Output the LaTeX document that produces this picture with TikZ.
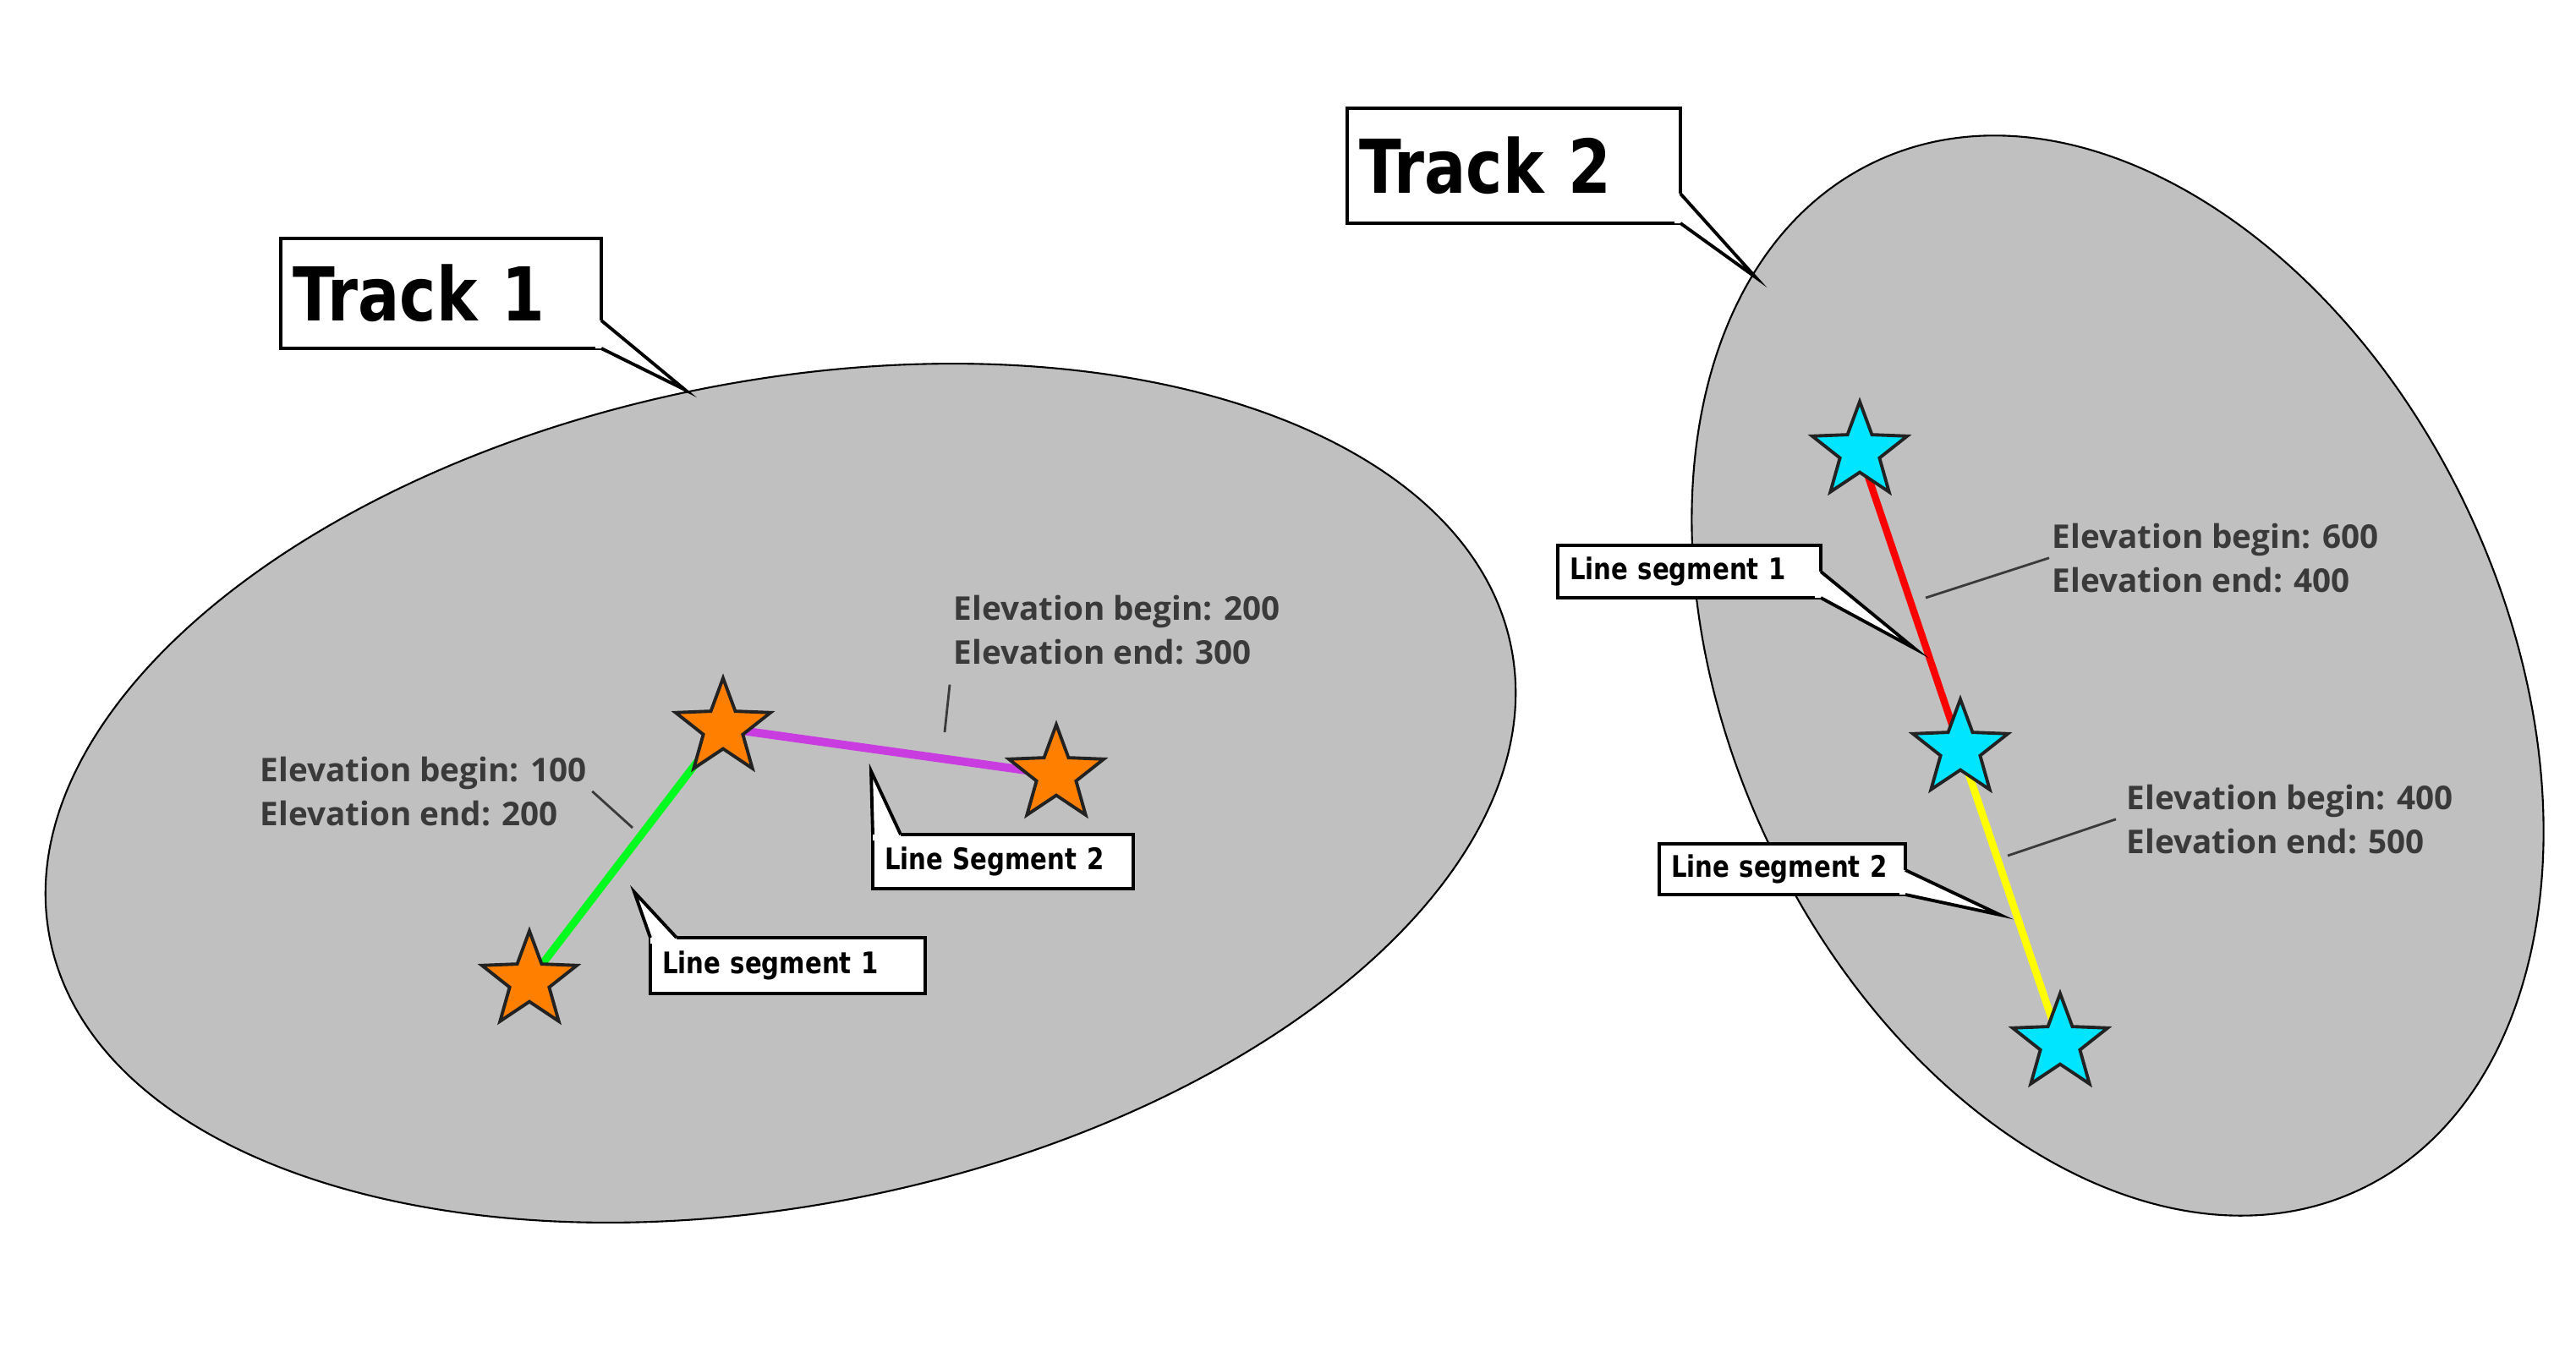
\documentclass[tikz,border=0pt]{standalone}
\usepackage{fontspec}
\usetikzlibrary{shapes.geometric}
\newfontfamily\labelfont{DejaVu Sans}[FakeStretch=0.83]
\newfontfamily\elevfont{Open Sans}
\definecolor{trackgray}{RGB}{193,192,193}
\definecolor{starorange}{RGB}{255,128,0}
\definecolor{starcyan}{RGB}{0,229,255}
\definecolor{starline}{RGB}{34,34,34}
\definecolor{elevgray}{RGB}{58,58,58}
\definecolor{seggreen}{RGB}{0,252,30}
\definecolor{segpurple}{RGB}{200,60,224}
\definecolor{segred}{RGB}{250,0,0}
\definecolor{segyellow}{RGB}{255,255,0}

% tail leaving the right side of a box, ending in its bottom right corner
\newcommand{\tailse}[3]{%
  \fill[white] ([yshift=#2]#1.south east) -- (#3) -- (#1.south east)
    -- ([xshift=-2pt]#1.south east) -- ([xshift=-2pt,yshift=#2]#1.south east) -- cycle;
  \draw[boxline] ([yshift=#2]#1.south east) -- (#3) -- (#1.south east);
}
% tail leaving the top side of a box, starting in its top left corner
\newcommand{\tailnw}[3]{%
  \fill[white] (#1.north west) -- (#3) -- ([xshift=#2]#1.north west)
    -- ([xshift=#2,yshift=-2pt]#1.north west) -- ([yshift=-2pt]#1.north west) -- cycle;
  \draw[boxline] (#1.north west) -- (#3) -- ([xshift=#2]#1.north west);
}

\begin{document}
\begin{tikzpicture}[
  boxline/.style={line width=1.1pt,line join=miter,miter limit=25},
  callbox/.style={draw,fill=white,boxline,outer sep=0pt,anchor=north west,align=left,inner xsep=0.14cm},
  title/.style={callbox,font=\labelfont\bfseries\fontsize{25}{29}\selectfont},
  seglabel/.style={callbox,font=\labelfont\bfseries\fontsize{10}{12}\selectfont},
  trackstar/.style={star,star points=5,star point ratio=2.4,minimum size=1.18cm,inner sep=0pt,draw=starline,line width=1.1pt,fill=#1},
  elev/.style={anchor=north west,inner sep=0pt,align=left,text=elevgray,font=\elevfont\bfseries\fontsize{11}{14.9}\selectfont},
  pointer/.style={elevgray,line width=0.8pt},
]
  \useasboundingbox (0,0) rectangle (30.46,-16.11);

  % track 1
  \fill[trackgray,draw=black,line width=0.6pt,rotate around={11.3:(9.23,-9.38)}] (9.23,-9.38) ellipse (8.81 and 4.87);
  \coordinate (c1a) at (6.26,-11.60);
  \coordinate (c1b) at (8.55,-8.61);
  \coordinate (c1c) at (12.49,-9.16);
  \draw[seggreen,line width=2.6pt] (c1a) -- (c1b);
  \draw[segpurple,line width=2.8pt] (c1b) -- (c1c);
  \node[trackstar=starorange] (s1a) at (c1a) {};
  \node[trackstar=starorange] (s1b) at (c1b) {};
  \node[trackstar=starorange] (s1c) at (c1c) {};

  \node[elev] (e1) at (3.07,-8.94) {Elevation begin: 100\\Elevation end: 200};
  \node[elev] (e2) at (11.27,-7.03) {Elevation begin: 200\\Elevation end: 300};
  \coordinate (g1) at (7.48,-9.79);
  \coordinate (g2) at (11.17,-8.66);
  \draw[pointer] ([xshift=0.06cm]e1.east) -- (g1);
  \draw[pointer] ([xshift=-0.04cm,yshift=-0.23cm]e2.south west) -- (g2);

  \node[title,minimum width=3.79cm,minimum height=1.30cm,text width=3.51cm] (t1) at (3.32,-2.82) {Track 1};
  \tailse{t1}{0.33cm}{8.10,-4.61}
  \node[seglabel,minimum width=3.25cm,minimum height=0.66cm,text width=2.97cm] (l1) at (7.69,-11.09) {Line segment 1};
  \tailnw{l1}{0.31cm}{7.50,-10.55}
  \node[seglabel,minimum width=3.08cm,minimum height=0.64cm,text width=2.80cm] (l2) at (10.32,-9.87) {Line Segment 2};
  \tailnw{l2}{0.33cm}{10.30,-9.12}

  % track 2
  \fill[trackgray,draw=black,line width=0.6pt,rotate around={-64.8:(25.04,-7.99)}] (25.04,-7.99) ellipse (6.72 and 4.58);
  \coordinate (c2a) at (21.99,-5.34);
  \coordinate (c2b) at (23.18,-8.86);
  \coordinate (c2c) at (24.36,-12.34);
  \draw[segred,line width=2.4pt] (c2a) -- (c2b);
  \draw[segyellow,line width=2.5pt] (c2b) -- (c2c);
  \node[trackstar=starcyan] (s2a) at (c2a) {};
  \node[trackstar=starcyan] (s2b) at (c2b) {};
  \node[trackstar=starcyan] (s2c) at (c2c) {};

  \node[elev] (e3) at (24.26,-6.18) {Elevation begin: 600\\Elevation end: 400};
  \node[elev] (e4) at (25.14,-9.27) {Elevation begin: 400\\Elevation end: 500};
  \coordinate (g3) at (22.77,-7.07);
  \coordinate (g4) at (23.74,-10.12);
  \draw[pointer] ([xshift=-0.03cm]e3.west) -- (g3);
  \draw[pointer] ([xshift=-0.12cm]e4.west) -- (g4);

  \node[title,minimum width=3.94cm,minimum height=1.36cm,text width=3.66cm] (t2) at (15.93,-1.28) {Track 2};
  \tailse{t2}{0.35cm}{20.76,-3.28}
  \node[seglabel,minimum width=3.11cm,minimum height=0.62cm,text width=2.83cm] (l3) at (18.42,-6.45) {Line segment 1};
  \tailse{l3}{0.31cm}{22.64,-7.67}
  \node[seglabel,minimum width=2.91cm,minimum height=0.60cm,text width=2.63cm] (l4) at (19.62,-9.98) {Line segment 2};
  \tailse{l4}{0.29cm}{23.65,-10.82}
\end{tikzpicture}
\end{document}
